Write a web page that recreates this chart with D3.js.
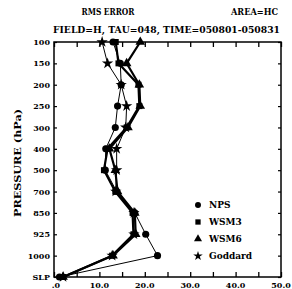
<!DOCTYPE html>
<html><head><meta charset="utf-8">
<script src="https://cdn.jsdelivr.net/npm/d3@7"></script>
<style>body{margin:0;background:#fff}svg{display:block}text{font-family:"DejaVu Serif",serif;font-weight:bold;fill:#000}</style>
</head><body><svg id="c" width="292" height="289"></svg>
<script>
const levels = ["100","150","200","250","300","400","500","700","850","925","1000","SLP"];
const xTicks = [0,10,20,30,40,50];
const xTickLabels = [".0","10.0","20.0","30.0","40.0","50.0"];
const seriesNames = ["NPS","WSM3","WSM6","Goddard"];
const NPS     = [13.0,14.6,14.8,14.0,13.5,11.4,11.3,13.8,17.8,20.2,22.8,1.2];
const WSM3    = [13.6,14.2,18.6,18.8,16.0,11.8,11.0,13.5,17.3,17.5,12.8,2.0];
const WSM6    = [19.0,16.0,18.8,19.0,16.3,12.2,13.5,14.0,17.8,18.0,13.0,2.0];
const Goddard = [10.6,11.8,14.8,16.0,15.8,13.8,13.8,13.6,17.6,17.6,12.8,2.0];
const seriesValues = [NPS,WSM3,WSM6,Goddard];
const symbols = [d3.symbolCircle,d3.symbolSquare,d3.symbolTriangle,d3.symbolStar];
const widths = [1,2.2,2.2,1];

const svg = d3.select("#c");
const L=54,R=281,T=42,B=277;
const x = d3.scaleLinear().domain([0,50]).range([L,R]);
const y = d3.scalePoint().domain(levels).range([T,B]);

svg.append("rect").attr("x",L).attr("y",T).attr("width",R-L).attr("height",B-T)
  .attr("fill","none").attr("stroke","#000").attr("stroke-width",1.5);

const minor = d3.range(0,51,5);
svg.append("g").attr("transform",`translate(0,${B})`)
  .call(d3.axisBottom(x).tickValues(minor).tickSize(-5).tickFormat(""))
  .call(g=>{g.select(".domain").remove();g.selectAll("line").attr("stroke-width",1.3);});
svg.append("g").attr("transform",`translate(0,${T})`)
  .call(d3.axisTop(x).tickValues(minor).tickSize(-5).tickFormat(""))
  .call(g=>{g.select(".domain").remove();g.selectAll("line").attr("stroke-width",1.3);});
svg.append("g").selectAll("text").data(xTicks).join("text")
  .attr("x",(d,i)=>x(d)+(i==0?2:0)).attr("y",B+11).attr("text-anchor","middle")
  .attr("font-size",8).text((d,i)=>xTickLabels[i]);

svg.append("g").attr("transform",`translate(${L},0)`)
  .call(d3.axisLeft(y).tickSize(-3).tickPadding(4))
  .call(g=>{g.select(".domain").remove();g.selectAll("line").attr("stroke-width",1.2);
    g.selectAll("text").attr("font-size",8).attr("font-family","DejaVu Serif").attr("font-weight","bold").attr("fill","#000");});
svg.append("g").attr("transform",`translate(${R},0)`)
  .call(d3.axisRight(y).tickSize(-3).tickFormat(""))
  .call(g=>{g.select(".domain").remove();g.selectAll("line").attr("stroke-width",1.2);});

svg.append("text").attr("x",108).attr("y",15).attr("text-anchor","middle").attr("font-size",9)
  .attr("textLength",53).attr("lengthAdjust","spacingAndGlyphs").text("RMS ERROR");
svg.append("text").attr("x",278).attr("y",15).attr("text-anchor","end").attr("font-size",9)
  .attr("textLength",47).attr("lengthAdjust","spacingAndGlyphs").text("AREA=HC");
svg.append("text").attr("x",53).attr("y",33).attr("font-size",9)
  .attr("textLength",227).attr("lengthAdjust","spacingAndGlyphs").text("FIELD=H, TAU=048, TIME=050801-050831");
svg.append("text").attr("transform","translate(21,163) rotate(-90)").attr("text-anchor","middle")
  .attr("font-size",9)
  .attr("textLength",108).attr("lengthAdjust","spacingAndGlyphs").text("PRESSURE (hPa)");

const line = d3.line().x(d=>x(d.v)).y(d=>y(d.l));
seriesValues.forEach((vals,i)=>{
  const data = vals.map((v,j)=>({v,l:levels[j]}));
  svg.append("path").datum(data).attr("d",line).attr("fill","none").attr("stroke","#000").attr("stroke-width",widths[i]);
  svg.append("g").selectAll("path").data(data).join("path")
    .attr("transform",d=>`translate(${x(d.v)},${y(d.l)})`)
    .attr("d",d3.symbol().type(symbols[i]).size(i==1?36:40)).attr("fill","#000");
});

const ly = [208,225,242,259];
seriesNames.forEach((n,i)=>{
  svg.append("path").attr("transform",`translate(198,${ly[i]-3})`)
    .attr("d",d3.symbol().type(symbols[i]).size(28)).attr("fill","#000");
  svg.append("text").attr("x",209).attr("y",ly[i]).attr("font-size",9).text(n);
});
</script></body></html>
